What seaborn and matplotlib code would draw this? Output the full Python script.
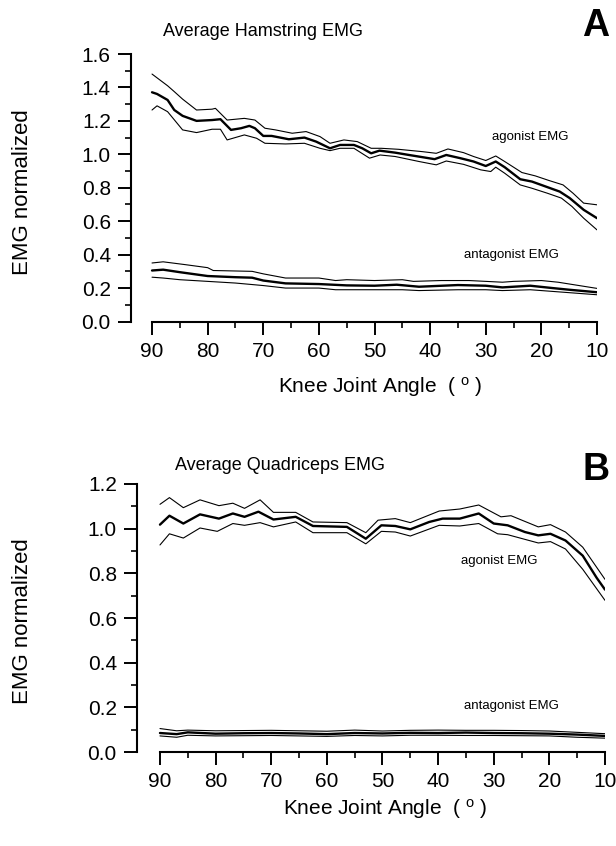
import matplotlib
matplotlib.use("Agg")
import matplotlib.pyplot as plt
import seaborn as sns
import pandas as pd
from matplotlib.ticker import MultipleLocator, FormatStrFormatter

# ---------------- data ----------------
x_ticks = [90, 80, 70, 60, 50, 40, 30, 20, 10]
x_tick_labels = ["90", "80", "70", "60", "50", "40", "30", "20", "10"]

# Panel A: hamstring, agonist EMG (mean, upper, lower)
ham_ago_ang = [90, 89.1, 87.2, 86.0, 84.5, 82.0, 79.2, 77.7, 75.8, 74.0, 72.5, 71.5, 70.0, 68.5, 65.4,
               62.6, 60.5, 58.0, 56.2, 53.7, 52.2, 50.6, 49.1, 46.3, 43.8, 41.4, 39.2, 37.1, 34.6, 32.2,
               30.0, 28.2, 26.6, 23.8, 21.7, 19.2, 16.7, 14.9, 12.4, 10.0]
ham_ago_mean = [1.371, 1.361, 1.325, 1.265, 1.23, 1.20, 1.205, 1.21, 1.146, 1.156, 1.17, 1.156, 1.11, 1.11,
                1.09, 1.10, 1.076, 1.036, 1.056, 1.056, 1.036, 1.006, 1.022, 1.01, 0.996, 0.983, 0.971,
                0.996, 0.977, 0.957, 0.93, 0.957, 0.923, 0.851, 0.837, 0.807, 0.777, 0.738, 0.668, 0.618]
ham_ago_up_ang = [90, 87.2, 86, 84.5, 82, 79.2, 78.6, 76.5, 73.4, 71.5, 69.7, 67.8, 64.8, 62.3, 59.8, 58,
                  55.5, 53.1, 50.6, 48.8, 45.7, 41.4, 38.9, 36.8, 34, 32.2, 30, 28.2, 26.6, 23.5, 21.1,
                  18.6, 16.1, 14.3, 12.4, 10]
ham_ago_up = [1.48, 1.41, 1.375, 1.33, 1.265, 1.27, 1.275, 1.205, 1.215, 1.205, 1.156, 1.146, 1.126, 1.136,
              1.106, 1.066, 1.086, 1.076, 1.036, 1.036, 1.03, 1.016, 1.006, 1.032, 1.01, 0.987, 0.963,
              0.99, 0.957, 0.891, 0.871, 0.843, 0.817, 0.767, 0.708, 0.698]
ham_ago_lo_ang = [90, 89.1, 87.2, 84.5, 82, 79.2, 77.7, 76.5, 73.4, 71.2, 69.7, 66, 62.6, 59.8, 58, 56.2,
                  53.7, 50.9, 49, 46.3, 42, 38.9, 37.1, 34, 30.9, 29.1, 28.2, 26.6, 23.8, 21.7, 18.9,
                  16.4, 14.5, 12.4, 10]
ham_ago_lo = [1.265, 1.29, 1.255, 1.146, 1.13, 1.15, 1.15, 1.086, 1.116, 1.096, 1.066, 1.062, 1.066, 1.036,
              1.022, 1.036, 1.036, 0.977, 0.996, 0.987, 0.957, 0.937, 0.96, 0.94, 0.907, 0.897, 0.923,
              0.887, 0.817, 0.797, 0.767, 0.738, 0.688, 0.618, 0.548]

# Panel A: hamstring, antagonist EMG
ham_ant_ang = [90, 88, 85, 80, 75, 72, 70, 66, 60, 55, 50, 46, 42, 35, 30, 27, 22, 18, 15, 10]
ham_ant_mean = [0.305, 0.31, 0.295, 0.272, 0.265, 0.262, 0.245, 0.228, 0.224, 0.216, 0.214, 0.22, 0.208,
                0.218, 0.214, 0.204, 0.214, 0.2, 0.19, 0.175]
ham_ant_up_ang = [90, 88, 84, 80, 79, 72, 70, 66, 60, 57, 55, 50, 45, 43, 38, 33, 30, 27, 25, 20, 17, 10]
ham_ant_up = [0.35, 0.357, 0.34, 0.322, 0.305, 0.30, 0.285, 0.26, 0.26, 0.245, 0.25, 0.245, 0.25, 0.24,
              0.245, 0.245, 0.24, 0.235, 0.24, 0.245, 0.235, 0.198]
ham_ant_lo_ang = [90, 88, 85, 80, 75, 70, 66, 60, 57, 50, 45, 42, 35, 30, 27, 22, 18, 10]
ham_ant_lo = [0.265, 0.26, 0.25, 0.24, 0.23, 0.215, 0.2, 0.2, 0.19, 0.19, 0.19, 0.185, 0.19, 0.19, 0.185,
              0.19, 0.18, 0.16]

# Panel B: quadriceps, agonist EMG
quad_ago_ang = [90, 88.3, 85.8, 82.8, 79.4, 76.9, 74.8, 72.3, 69.6, 65.6, 62.5, 56.4, 53.0, 50.2, 47.7,
                45.0, 41.6, 39.2, 36.1, 32.7, 30.0, 27.5, 24.4, 22.0, 19.8, 17.1, 14.0, 11.5, 10]
quad_ago_mean = [1.018, 1.058, 1.023, 1.064, 1.045, 1.068, 1.053, 1.076, 1.041, 1.053, 1.012, 1.008, 0.955,
                 1.015, 1.012, 0.997, 1.03, 1.045, 1.045, 1.068, 1.023, 1.015, 0.985, 0.97, 0.977, 0.947,
                 0.879, 0.78, 0.727]
quad_ago_up_ang = [90, 88.3, 85.8, 82.8, 79.4, 76.9, 74.8, 72.0, 69.6, 65.6, 62.5, 56.4, 53.0, 50.8, 47.7,
                   45.0, 39.8, 36.1, 32.7, 28.7, 26.9, 22.0, 19.8, 17.1, 14.0, 10]
quad_ago_up = [1.109, 1.139, 1.094, 1.129, 1.103, 1.114, 1.091, 1.129, 1.073, 1.073, 1.03, 1.027, 0.982,
               1.038, 1.045, 1.027, 1.079, 1.088, 1.106, 1.053, 1.058, 1.008, 1.018, 0.985, 0.917, 0.773]
quad_ago_lo_ang = [90, 88.3, 85.8, 82.8, 79.7, 76.9, 74.8, 72.0, 69.6, 65.6, 62.5, 56.4, 53.0, 50.2, 47.7,
                   45.0, 39.8, 36.1, 32.7, 29.3, 27.5, 22.0, 19.8, 17.1, 14.0, 10]
quad_ago_lo = [0.927, 0.977, 0.958, 1.003, 0.988, 1.023, 1.015, 1.027, 1.008, 1.03, 0.982, 0.982, 0.932,
               0.988, 0.985, 0.967, 1.015, 1.012, 1.023, 0.977, 0.973, 0.936, 0.942, 0.909, 0.818, 0.679]

# Panel B: quadriceps, antagonist EMG
quad_ant_ang = [90, 87, 85, 80, 75, 70, 65, 60, 55, 50, 45, 40, 35, 30, 25, 20, 15, 10]
quad_ant_mean = [0.085, 0.08, 0.088, 0.082, 0.084, 0.085, 0.083, 0.08, 0.085, 0.083, 0.086, 0.085, 0.087,
                 0.085, 0.084, 0.082, 0.078, 0.072]
quad_ant_up = [0.105, 0.095, 0.098, 0.095, 0.096, 0.097, 0.095, 0.093, 0.098, 0.094, 0.097, 0.098, 0.097,
               0.097, 0.096, 0.094, 0.088, 0.082]
quad_ant_lo = [0.072, 0.066, 0.075, 0.072, 0.073, 0.074, 0.072, 0.07, 0.074, 0.072, 0.075, 0.075, 0.074,
               0.074, 0.073, 0.072, 0.066, 0.062]

# ---------------- style ----------------
sns.set_style("ticks")
plt.rcParams['font.family'] = ['Liberation Sans', 'DejaVu Sans']
plt.rcParams['mathtext.fontset'] = 'custom'
plt.rcParams['mathtext.rm'] = 'Liberation Sans'
plt.rcParams['mathtext.it'] = 'Liberation Sans:italic'
plt.rcParams['text.color'] = 'black'
plt.rcParams['axes.labelcolor'] = 'black'
plt.rcParams['xtick.color'] = 'black'
plt.rcParams['ytick.color'] = 'black'
plt.rcParams['axes.edgecolor'] = 'black'

fig = plt.figure(figsize=(6.16, 8.46), dpi=100)
axA = fig.add_axes([131 / 616, 1 - 321.5 / 846, 466 / 616, 267.5 / 846])
axB = fig.add_axes([137 / 616, 1 - 752 / 846, 468 / 616, 268 / 846])


def draw(ax, ang, vals, lw):
    df = pd.DataFrame({"angle": ang, "emg": vals})
    sns.lineplot(data=df, x="angle", y="emg", ax=ax, color="black", linewidth=lw,
                 estimator=None, sort=False)


THICK, THIN = 1.7, 0.8
draw(axA, ham_ago_ang, ham_ago_mean, THICK)
draw(axA, ham_ago_up_ang, ham_ago_up, THIN)
draw(axA, ham_ago_lo_ang, ham_ago_lo, THIN)
draw(axA, ham_ant_ang, ham_ant_mean, THICK)
draw(axA, ham_ant_up_ang, ham_ant_up, THIN)
draw(axA, ham_ant_lo_ang, ham_ant_lo, THIN)

draw(axB, quad_ago_ang, quad_ago_mean, THICK)
draw(axB, quad_ago_up_ang, quad_ago_up, THIN)
draw(axB, quad_ago_lo_ang, quad_ago_lo, THIN)
draw(axB, quad_ant_ang, quad_ant_mean, THICK)
draw(axB, quad_ant_ang, quad_ant_up, THIN)
draw(axB, quad_ant_ang, quad_ant_lo, THIN)


def style(ax, ymax, xleft):
    ax.set_xlim(xleft, 10)
    ax.set_ylim(0, ymax)
    for s in ["top", "right"]:
        ax.spines[s].set_visible(False)
    ax.spines["left"].set_bounds(0, ymax)
    ax.spines["bottom"].set_bounds(90, 10)
    for s in ["left", "bottom"]:
        ax.spines[s].set_linewidth(1.5)
        ax.spines[s].set_color("black")
    ax.set_xticks(x_ticks)
    ax.set_xticklabels(x_tick_labels)
    ax.xaxis.set_minor_locator(MultipleLocator(5))
    ax.yaxis.set_major_locator(MultipleLocator(0.2))
    ax.yaxis.set_minor_locator(MultipleLocator(0.1))
    ax.yaxis.set_major_formatter(FormatStrFormatter("%.1f"))
    ax.tick_params(which="major", length=9.5, width=1.4, labelsize=15, pad=5,
                   direction="out", colors="black")
    ax.tick_params(which="minor", length=4, width=1.2, direction="out", colors="black")
    ax.set_ylabel("EMG normalized", fontsize=16, color="black")
    ax.set_xlabel(r"Knee Joint Angle  ( $^{\mathrm{o}}$ )", fontsize=15, color="black")


style(axA, 1.6, 93.78)
style(axB, 1.2, 94.13)
axA.yaxis.set_label_coords(-0.21, 0.484)
axB.yaxis.set_label_coords(-0.222, 0.49)
axA.xaxis.set_label_coords(0.534, -0.2)
axB.xaxis.set_label_coords(0.53, -0.168)

# panel annotations
axA.text(22.0, 1.103, "agonist EMG", fontsize=9.5, ha="center", va="center", color="black")
axA.text(25.3, 0.40, "antagonist EMG", fontsize=9.5, ha="center", va="center", color="black")
axB.text(29.0, 0.855, "agonist EMG", fontsize=9.5, ha="center", va="center", color="black")
axB.text(26.9, 0.206, "antagonist EMG", fontsize=9.5, ha="center", va="center", color="black")

fig.text(163 / 616, 1 - 31 / 846, "Average Hamstring EMG", fontsize=13, ha="left", va="center",
         color="black")
fig.text(175 / 616, 1 - 465 / 846, "Average Quadriceps EMG", fontsize=13, ha="left", va="center",
         color="black")
fig.text(596 / 616, 1 - 26 / 846, "A", fontsize=27, fontweight="bold", ha="center", va="center",
         color="black")
fig.text(596 / 616, 1 - 470 / 846, "B", fontsize=27, fontweight="bold", ha="center", va="center",
         color="black")

fig.savefig("out.png", dpi=100)
